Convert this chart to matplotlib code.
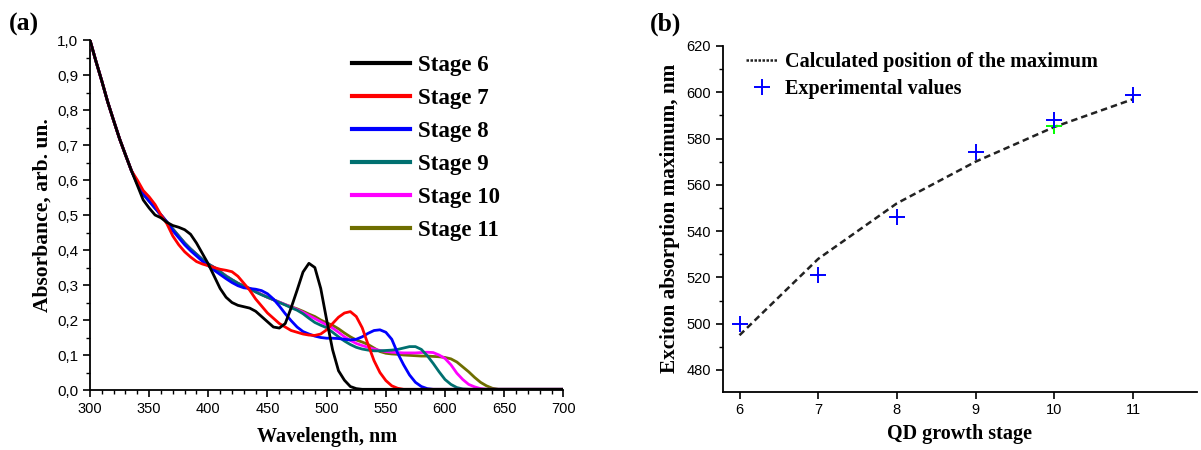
import numpy as np
import matplotlib
matplotlib.use('Agg')
import matplotlib.pyplot as plt
from matplotlib.lines import Line2D
from matplotlib.ticker import MultipleLocator, FuncFormatter

# ---- data (a): absorbance spectra ----
wl = [300, 305, 310, 315, 320, 325, 330, 335, 340, 345,
      350, 355, 360, 365, 370, 375, 380, 385, 390, 395,
      400, 405, 410, 415, 420, 425, 430, 435, 440, 445,
      450, 455, 460, 465, 470, 475, 480, 485, 490, 495,
      500, 505, 510, 515, 520, 525, 530, 535, 540, 545,
      550, 555, 560, 565, 570, 575, 580, 585, 590, 595,
      600, 605, 610, 615, 620, 625, 630, 635, 640, 645,
      650, 655, 660, 680, 700]

head = [1.00, 0.94, 0.883, 0.823, 0.77, 0.718, 0.672, 0.627]

stage6 = head + [0.585, 0.543, 0.52, 0.50, 0.492, 0.479, 0.47, 0.465, 0.458, 0.445,
                 0.42, 0.39, 0.36, 0.325, 0.29, 0.265, 0.25, 0.242, 0.238, 0.234,
                 0.225, 0.21, 0.195, 0.18, 0.177, 0.19, 0.235, 0.285, 0.337, 0.362,
                 0.35, 0.29, 0.20, 0.115, 0.055, 0.028, 0.01, 0.004, 0.002, 0.002,
                 0.002, 0.002, 0.002, 0.002, 0.002, 0.002, 0.002, 0.002, 0.002, 0.002,
                 0.002, 0.002, 0.002, 0.002, 0.002, 0.002, 0.002, 0.002, 0.002, 0.002,
                 0.002, 0.002, 0.002, 0.002, 0.002, 0.002, 0.002]
stage7 = head + [0.60, 0.57, 0.552, 0.53, 0.50, 0.475, 0.44, 0.415, 0.395, 0.38,
                 0.367, 0.36, 0.355, 0.35, 0.345, 0.342, 0.338, 0.325, 0.305, 0.285,
                 0.26, 0.24, 0.22, 0.205, 0.19, 0.18, 0.17, 0.165, 0.16, 0.157,
                 0.156, 0.16, 0.172, 0.19, 0.208, 0.22, 0.224, 0.21, 0.178, 0.13,
                 0.084, 0.05, 0.027, 0.012, 0.005, 0.002, 0.002, 0.002, 0.002, 0.002,
                 0.002, 0.002, 0.002, 0.002, 0.002, 0.002, 0.002, 0.002, 0.002, 0.002,
                 0.002, 0.002, 0.002, 0.002, 0.002, 0.002, 0.002]
stage8 = head + [0.592, 0.56, 0.54, 0.52, 0.50, 0.48, 0.455, 0.435, 0.415, 0.398,
                 0.383, 0.368, 0.355, 0.342, 0.33, 0.318, 0.307, 0.298, 0.292, 0.29,
                 0.288, 0.284, 0.275, 0.26, 0.24, 0.218, 0.198, 0.18, 0.167, 0.16,
                 0.154, 0.15, 0.148, 0.148, 0.147, 0.145, 0.143, 0.145, 0.152, 0.162,
                 0.17, 0.172, 0.165, 0.145, 0.105, 0.072, 0.043, 0.022, 0.01, 0.004,
                 0.002, 0.002, 0.002, 0.002, 0.002, 0.002, 0.002, 0.002, 0.002, 0.002,
                 0.002, 0.002, 0.002, 0.002, 0.002, 0.002, 0.002]
stage9 = head + [0.59, 0.56, 0.54, 0.52, 0.50, 0.48, 0.46, 0.44, 0.42, 0.403,
                 0.388, 0.373, 0.36, 0.35, 0.338, 0.325, 0.315, 0.305, 0.297, 0.29,
                 0.28, 0.272, 0.265, 0.258, 0.25, 0.243, 0.235, 0.228, 0.218, 0.205,
                 0.193, 0.185, 0.178, 0.165, 0.152, 0.14, 0.13, 0.122, 0.117, 0.114,
                 0.112, 0.112, 0.113, 0.114, 0.116, 0.12, 0.124, 0.124, 0.116, 0.098,
                 0.076, 0.052, 0.03, 0.016, 0.007, 0.003, 0.002, 0.002, 0.002, 0.002,
                 0.002, 0.002, 0.002, 0.002, 0.002, 0.002, 0.002]
stage10 = head + [0.59, 0.56, 0.54, 0.52, 0.50, 0.48, 0.46, 0.44, 0.42, 0.403,
                  0.388, 0.373, 0.36, 0.35, 0.338, 0.326, 0.315, 0.305, 0.297, 0.29,
                  0.281, 0.273, 0.265, 0.258, 0.251, 0.244, 0.237, 0.23, 0.222, 0.213,
                  0.204, 0.195, 0.186, 0.177, 0.165, 0.152, 0.142, 0.133, 0.127, 0.122,
                  0.117, 0.113, 0.11, 0.108, 0.107, 0.106, 0.106, 0.106, 0.107, 0.108,
                  0.107, 0.10, 0.09, 0.072, 0.048, 0.03, 0.016, 0.009, 0.004, 0.002,
                  0.002, 0.002, 0.002, 0.002, 0.002, 0.002, 0.002]
stage11 = head + [0.59, 0.56, 0.54, 0.52, 0.50, 0.48, 0.46, 0.44, 0.42, 0.403,
                  0.388, 0.373, 0.36, 0.35, 0.338, 0.326, 0.315, 0.305, 0.297, 0.29,
                  0.281, 0.273, 0.265, 0.258, 0.251, 0.244, 0.238, 0.232, 0.225, 0.217,
                  0.21, 0.20, 0.192, 0.185, 0.175, 0.163, 0.152, 0.143, 0.137, 0.13,
                  0.12, 0.11, 0.105, 0.103, 0.102, 0.10, 0.099, 0.098, 0.097, 0.097,
                  0.096, 0.095, 0.093, 0.089, 0.08, 0.066, 0.052, 0.036, 0.022, 0.012,
                  0.005, 0.002, 0.002, 0.002, 0.002, 0.002, 0.002]

spectra = [stage6, stage7, stage8, stage9, stage10, stage11]
stage_labels = ['Stage 6', 'Stage 7', 'Stage 8', 'Stage 9', 'Stage 10', 'Stage 11']
colors = ['black', '#ff0000', '#0000ff', '#007070', '#ff00ff', '#6e6e00']

# ---- data (b): exciton maximum vs growth stage ----
stage = [6, 7, 8, 9, 10, 11]
calc_max = [495, 528, 552, 570, 585, 597]
exp_max = [500, 521, 546, 574, 588, 599]
extra_stage = [10]
extra_max = [585.5]

serif = 'Liberation Serif'
sans = 'Liberation Sans'

fig = plt.figure(figsize=(12.01, 4.5), dpi=100)

# panel (a)
ax1 = fig.add_axes([0.0749, 0.1333, 0.3942, 0.7778])
for i, (y, c, lab) in enumerate(zip(spectra, colors, stage_labels)):
    ax1.plot(wl, y, color=c, lw=2.0, label=lab, zorder=10 - i,
             solid_joinstyle='round')
ax1.set_xlim(300, 700)
ax1.set_ylim(0, 1.0)
ax1.xaxis.set_major_locator(MultipleLocator(50))
ax1.xaxis.set_minor_locator(MultipleLocator(10))
ax1.yaxis.set_major_locator(MultipleLocator(0.1))
ax1.yaxis.set_minor_locator(MultipleLocator(0.05))
ax1.yaxis.set_major_formatter(FuncFormatter(lambda v, p: f'{v:.1f}'.replace('.', ',')))
ax1.set_xlabel('Wavelength, nm', fontfamily=serif, fontweight='bold', fontsize=14.5, labelpad=8)
ax1.set_ylabel('Absorbance, arb. un.', fontfamily=serif, fontweight='bold', fontsize=15.5, labelpad=3)
ax1.legend(loc='upper left', bbox_to_anchor=(0.53, 0.99), frameon=False,
           prop={'family': serif, 'weight': 'bold', 'size': 16.5},
           handlelength=2.5, handletextpad=0.35, labelspacing=0.52, borderpad=0)
for lg in ax1.get_legend().get_lines():
    lg.set_linewidth(3)

# panel (b)
ax2 = fig.add_axes([0.602, 0.1296, 0.3944, 0.7682])
ax2.plot(stage, calc_max, color='#222222', lw=1.8, ls=(0, (2.6, 1.6)))
ax2.plot(extra_stage, extra_max, '+', color='#00ff00', ms=11, mew=1.4)
ax2.plot(stage, exp_max, '+', color='#0000ff', ms=11, mew=1.4)
ax2.set_xlim(5.79, 11.81)
ax2.set_ylim(470.6, 620)
ax2.set_xticks(stage)
ax2.yaxis.set_major_locator(MultipleLocator(20))
ax2.yaxis.set_minor_locator(MultipleLocator(10))
ax2.set_xlabel('QD growth stage', fontfamily=serif, fontweight='bold', fontsize=14.5, labelpad=5)
ax2.set_ylabel('Exciton absorption maximum, nm', fontfamily=serif, fontweight='bold', fontsize=15.3, labelpad=5)
handles = [Line2D([], [], color='#222222', lw=1.8, ls=(0, (1, 0.6))),
           Line2D([], [], color='#0000ff', ls='none', marker='+', ms=11, mew=1.4)]
ax2.legend(handles, ['Calculated position of the maximum', 'Experimental values'],
           loc='upper left', bbox_to_anchor=(0.027, 1.012), frameon=False,
           prop={'family': serif, 'weight': 'bold', 'size': 14.5},
           handlelength=1.6, handletextpad=0.35, labelspacing=0.35, borderpad=0)

for ax in (ax1, ax2):
    for s in ('top', 'right'):
        ax.spines[s].set_visible(False)
    for s in ('left', 'bottom'):
        ax.spines[s].set_linewidth(1.3)
    ax.tick_params(which='major', direction='out', length=5, width=1.2)
    ax.tick_params(which='minor', direction='out', length=3, width=1.0)
    for t in ax.get_xticklabels() + ax.get_yticklabels():
        t.set_fontfamily(sans)
ax1.tick_params(axis='x', labelsize=10.5)
ax1.tick_params(axis='y', labelsize=11)
ax2.tick_params(labelsize=10.5)

fig.text(0.007, 0.945, '(a)', fontfamily=serif, fontweight='bold', fontsize=18.5, va='center')
fig.text(0.541, 0.945, '(b)', fontfamily=serif, fontweight='bold', fontsize=18.5, va='center')

fig.savefig('out.png', dpi=100)
